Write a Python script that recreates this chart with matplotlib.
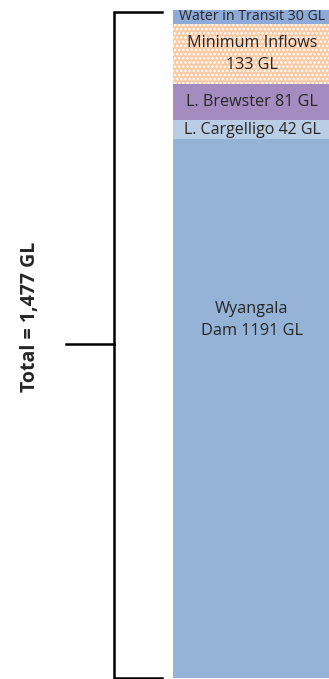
import numpy as np
import matplotlib.pyplot as plt

# storage components (GL), bottom to top
names = ["Wyangala\nDam 1191 GL", "L. Cargelligo 42 GL", "L. Brewster 81 GL",
         "Minimum Inflows\n133 GL", "Water in Transit 30 GL"]
volumes = [1191, 42, 81, 133, 30]
colours = ["#95b3d7", "#b9cde5", "#a58cc0", "#fbcaa4", "#8eaad8"]
total = sum(volumes)
total_label = "Total = 1,477 GL"

plt.rcParams['hatch.linewidth'] = 1.2

fig = plt.figure(figsize=(3.29, 6.79), dpi=100)
ax = fig.add_axes([0, 0, 1, 1])

# pixel-like x axis, y axis in GL
px = 668.0 / total
ax.set_xlim(0, 329)
ax.set_ylim(-1.0 / px, total + 10.0 / px)
ax.axis('off')

bottoms = np.concatenate([[0], np.cumsum(volumes)[:-1]])
for i, (v, b, c) in enumerate(zip(volumes, bottoms, colours)):
    if "Minimum" in names[i]:
        ax.bar(251.5, v, width=157, bottom=b, color=c, edgecolor='white',
               linewidth=0, hatch='....')
    else:
        ax.bar(251.5, v, width=157, bottom=b, color=c, linewidth=0)

# labels
sizes = [11.7, 11.5, 11.6, 11.6, 10.2]
for i, (v, b) in enumerate(zip(volumes, bottoms)):
    y = b + v / 2
    if i == 0:
        y = b + v * 0.665
    ax.text(252, y, names[i], ha='center', va='center', fontsize=sizes[i],
            color='#262626', family='Open Sans', linespacing=1.5)

# bracket
lw = 1.8
ax.plot([162, 114, 114, 162], [total - 4, total - 4, 0, 0], color='black',
        lw=lw, solid_joinstyle='miter')
ax.plot([66, 114], [total / 2, total / 2], color='black', lw=lw)
ax.text(30, total / 2 + 60, total_label, rotation=90, ha='center', va='center',
        fontsize=14, fontweight='bold', color='#262626', family='Open Sans')

plt.savefig('out.png', dpi=100)
